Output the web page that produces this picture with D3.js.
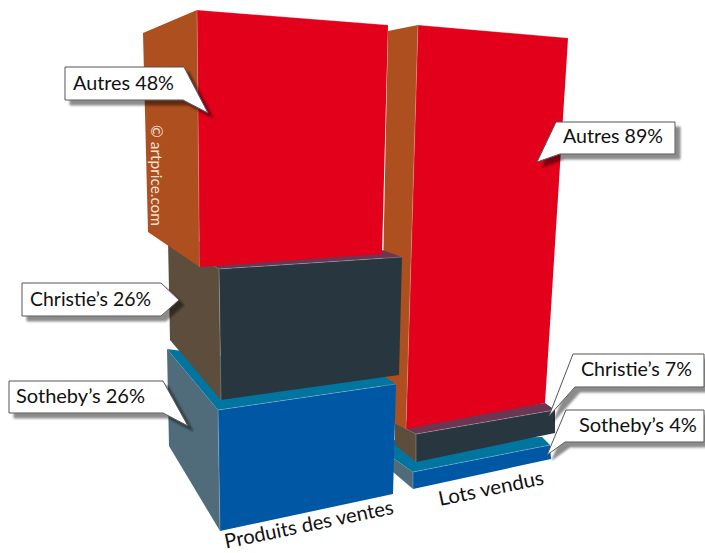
<!DOCTYPE html>
<html><head><meta charset="utf-8">
<script src="https://cdn.jsdelivr.net/npm/d3@7/dist/d3.min.js"></script>
<style>html,body{margin:0;padding:0;background:#fff}svg{display:block}text{font-family:Lato,"Noto Sans",sans-serif}</style>
</head><body><svg id="c" width="705" height="553"></svg>
<script>
// ---- data ----
const categories = ["Produits des ventes", "Lots vendus"];
const houses = ["Sotheby\u2019s", "Christie\u2019s", "Autres"];
const sharesVentes = [26, 26, 48];
const sharesLots = [4, 7, 89];
const credit = "\u00a9 artprice.com";

// ---- colours ----
const frontColors = ["#0058a5", "#28373f", "#e2001a"];
const sideColors  = ["#506b7a", "#5c4d3c", "#ad4f1e"];
const topColors   = ["#00759f", "#6b3651"];

// ---- perspective calibration: each edge is a piecewise scale over the stacked share ----
// (lo0, hi0, lo1, hi1, lo2, hi2)
const frames = [
  { frontLeft:  [[220,531],[218,410],[221,400],[219,269],[199.5,267],[197,10]],
    frontRight: [[393,494],[396,384],[399,375],[402,257],[382,254],[388,25]],
    sideBack:   [[169,446],[167,349],[170,340],[168,240],[148,232],[143,33]],
    topLeft:    [[167,349],[168,240],[143,33]],
    topRight:   [[385,377],[382,250],[388,25]] },
  { frontLeft:  [[413,489],[413,472],[416,462],[416,434],[406,429],[418,25]],
    frontRight: [[551,459],[550,445],[555,433],[555,410],[545,403],[568,38]],
    sideBack:   [[393,472],[393,458],[395,445],[395,423],[380,415],[388,31]],
    topLeft:    [[393,440],[395,423],[388,31]],
    topRight:   [[542,437],[545,403],[568,38]] }
];
const callouts = [
  [ {pts:[[9,381],[163,381],[188,426],[163,413],[9,413]], x:16, y:403, w:129},
    {pts:[[22,283],[161,283],[179,300],[161,316],[22,316]], x:30, y:306, w:121},
    {pts:[[65,67],[184,67],[208,113],[183,100],[65,100]], x:73, y:90, w:101} ],
  [ {pts:[[566,410],[704,410],[704,442],[565,442],[547,455]], x:579, y:432, w:118},
    {pts:[[573,354],[704,354],[704,387],[575,387],[549,416]], x:581, y:376, w:111},
    {pts:[[556,122],[675,122],[675,154],[560,154],[537,162]], x:563, y:143, w:100} ]
];
const catLabels = [
  {x:226, y:548.6, angle:-11.7, w:172, size:20},
  {x:440, y:506, angle:-11.8, w:107, size:20}
];

const svg = d3.select("#c");
const defs = svg.append("defs");
const f = defs.append("filter").attr("id","sh").attr("x","-20%").attr("y","-30%").attr("width","150%").attr("height","170%");
f.append("feDropShadow").attr("dx",5).attr("dy",5).attr("stdDeviation",1.3).attr("flood-color","#000").attr("flood-opacity",0.45);

const poly = d3.line().curve(d3.curveLinearClosed);
const eps = 0.001;

function edgeScale(domain, pts){
  const sx = d3.scaleLinear(domain, pts.map(p=>p[0]));
  const sy = d3.scaleLinear(domain, pts.map(p=>p[1]));
  return v => [sx(v), sy(v)];
}

function drawBar(values, frame, g){
  const cum = Array.from(d3.cumsum(values));
  const domain = [0, cum[0], cum[0]+eps, cum[1], cum[1]+eps, cum[2]];
  const FL = edgeScale(domain, frame.frontLeft);
  const FR = edgeScale(domain, frame.frontRight);
  const SB = edgeScale(domain, frame.sideBack);
  const TL = edgeScale(cum, frame.topLeft);
  const TR = edgeScale(cum, frame.topRight);
  const segs = values.map((v,i)=>({i, lo:i?cum[i-1]+eps:0, hi:cum[i]}));
  const seg = g.selectAll("g").data(segs).join("g");
  seg.filter(d=>d.i<2).append("path")
    .attr("d",d=>poly([TL(d.hi),SB(d.hi),FL(d.hi),FR(d.hi),TR(d.hi)]))
    .attr("fill",d=>topColors[d.i]);
  seg.append("path")
    .attr("d",d=>poly([SB(d.lo),FL(d.lo),FL(d.hi),SB(d.hi)]))
    .attr("fill",d=>sideColors[d.i]);
  seg.append("path")
    .attr("d",d=>poly([FL(d.lo),FR(d.lo),FR(d.hi),FL(d.hi)]))
    .attr("fill",d=>frontColors[d.i]);
  seg.append("path")
    .attr("d",d=>d3.line()([FL(d.lo),FL(d.hi),FR(d.hi)]))
    .attr("fill","none").attr("stroke","#fff").attr("stroke-opacity",0.3).attr("stroke-width",0.8);
}

// back bar first
[1,0].forEach(b=>{
  drawBar(b===0?sharesVentes:sharesLots, frames[b], svg.append("g"));
});

// credit
svg.append("text").attr("transform","translate(151,125) rotate(90)")
  .attr("font-size",16).attr("fill","#f3e2d6")
  .attr("textLength",101).attr("lengthAdjust","spacingAndGlyphs").text(credit);

// callouts
[sharesVentes, sharesLots].forEach((vals,b)=>{
  vals.forEach((v,i)=>{
    const c = callouts[b][i];
    const g = svg.append("g");
    g.append("path").attr("d",poly(c.pts)).attr("fill","#fff")
      .attr("stroke","#555").attr("stroke-width",1).attr("filter","url(#sh)");
    g.append("text").attr("x",c.x).attr("y",c.y).attr("font-size",20).attr("fill","#111")
      .attr("textLength",c.w).attr("lengthAdjust","spacingAndGlyphs")
      .text(`${houses[i]} ${v}%`);
  });
});

// category labels
categories.forEach((t,b)=>{
  const l = catLabels[b];
  svg.append("text").attr("transform",`translate(${l.x},${l.y}) rotate(${l.angle})`)
    .attr("font-size",l.size).attr("fill","#111")
    .attr("textLength",l.w).attr("lengthAdjust","spacingAndGlyphs").text(t);
});
</script></body></html>
